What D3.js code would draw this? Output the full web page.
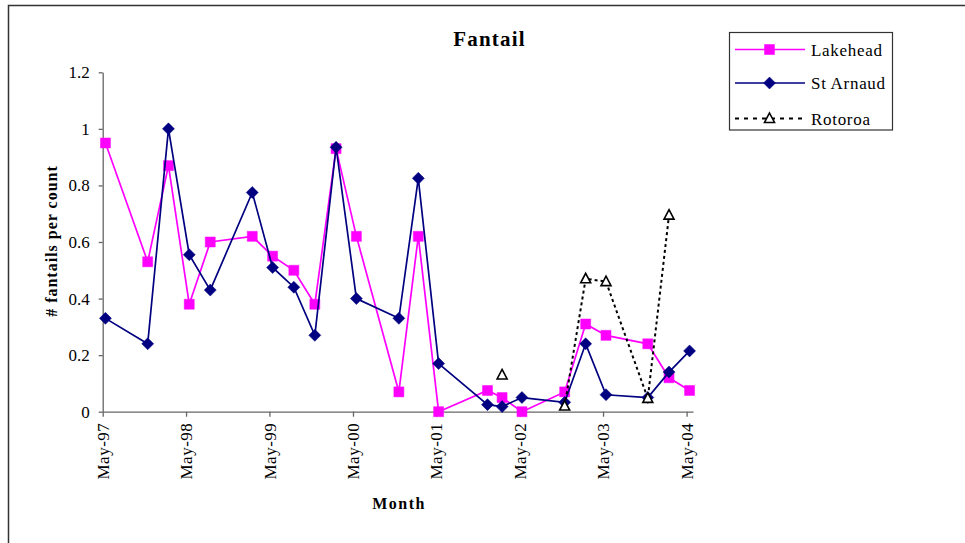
<!DOCTYPE html>
<html>
<head>
<meta charset="utf-8">
<script src="https://cdn.jsdelivr.net/npm/d3@7"></script>
<style>
  html, body { margin: 0; padding: 0; background: #fff; }
  svg { display: block; }
  svg text { font-family: "Liberation Serif", "Times New Roman", serif !important; fill: #000; }
</style>
</head>
<body>
<svg id="chart" width="965" height="543" font-family="Liberation Serif"></svg>
<script>
// ---- data ----
const dates = ["1997-05-13","1997-11-14","1998-02-13","1998-05-15","1998-08-15","1999-02-15","1999-05-15","1999-08-16","1999-11-16","2000-02-17","2000-05-16","2000-11-18","2001-02-11","2001-05-11","2001-12-11","2002-02-13","2002-05-11","2002-11-14","2003-02-14","2003-05-14","2003-11-13","2004-02-14","2004-05-14"];
const lakehead = [0.95,0.53,0.87,0.38,0.60,0.62,0.55,0.50,0.38,0.93,0.62,0.07,0.62,0.00,0.075,0.05,0.00,0.07,0.31,0.27,0.24,0.12,0.075];
const stArnaud = [0.33,0.24,1.00,0.555,0.43,0.775,0.51,0.44,0.27,0.935,0.40,0.33,0.825,0.17,0.025,0.018,0.05,0.033,0.24,0.06,0.05,0.14,0.215];
const rotoroa  = [null,null,null,null,null,null,null,null,null,null,null,null,null,null,null,0.13,null,0.02,0.47,0.46,0.047,0.695,null];
const seriesNames = ["Lakehead","St Arnaud","Rotoroa"];
const yTicks = [0,0.2,0.4,0.6,0.8,1,1.2];
const xTickDates = ["1997-05-01","1998-05-01","1999-05-01","2000-05-01","2001-05-01","2002-05-01","2003-05-01","2004-05-01"];
const titleText = "Fantail";
const xLabel = "Month";
const yLabel = "# fantails per count";

// ---- setup ----
const FONT = "Liberation Serif";
const svg = d3.select("#chart");
const parse = d3.timeParse("%Y-%m-%d");
const X0 = 102.7, X1 = 693, Y0 = 411.7, Y1 = 72.3;

const x = d3.scaleTime()
  .domain([parse("1997-05-01"), parse("2004-05-29")])
  .range([X0, X1]);
const y = d3.scaleLinear().domain([0, 1.2]).range([Y0, Y1]);

// outer frame
svg.append("rect")
  .attr("x", 8.5).attr("y", 5.5)
  .attr("width", 1100).attr("height", 700)
  .attr("fill", "none").attr("stroke", "#333").attr("stroke-width", 1.5);

// axes
const yAxis = d3.axisLeft(y).tickValues(yTicks)
  .tickFormat(d => String(+d.toFixed(1)))
  .tickSize(4).tickSizeOuter(0).tickPadding(9);
const gy = svg.append("g").attr("transform", `translate(${X0},0)`).call(yAxis);
gy.attr("font-family", FONT).attr("font-size", 17);
gy.selectAll("text").attr("font-family", FONT).style("font-size", "17px");

const xAxis = d3.axisBottom(x).tickValues(xTickDates.map(parse))
  .tickFormat(d3.timeFormat("%b-%y"))
  .tickSize(5).tickSizeOuter(0).tickPadding(7);
const gx = svg.append("g").attr("transform", `translate(0,${Y0})`).call(xAxis);
gx.attr("font-family", FONT).attr("font-size", 17);
gx.selectAll("text")
  .attr("transform", "rotate(-90)")
  .attr("text-anchor", "end")
  .attr("x", -11).attr("y", 0).attr("dy", "0.33em")
  .attr("font-family", FONT)
  .style("font-size", "17px").style("letter-spacing", "0.5px");

[gx, gy].forEach(g => {
  g.select(".domain").attr("stroke", "#666").attr("stroke-width", 1.3);
  g.selectAll(".tick line").attr("stroke", "#666").attr("stroke-width", 1.3);
});

// series
const seriesData = [
  { name: seriesNames[0], vals: lakehead, color: "#FF00FF", dash: null, marker: "square" },
  { name: seriesNames[1], vals: stArnaud, color: "#000080", dash: null, marker: "diamond" },
  { name: seriesNames[2], vals: rotoroa, color: "#000", dash: "3,3", marker: "triangle" }
];

const markerPath = {
  square: "M-5,-5H5V5H-5Z",
  diamond: "M0,-6L6,0L0,6L-6,0Z",
  triangle: "M0,-5.5L5,4L-5,4Z"
};

function drawMarker(g, type, color) {
  if (type === "triangle") {
    g.append("path").attr("d", markerPath[type])
      .attr("fill", "#fff").attr("stroke", "#000").attr("stroke-width", 1.6);
  } else {
    g.append("path").attr("d", markerPath[type]).attr("fill", color)
      .attr("stroke", color).attr("stroke-width", 0.5);
  }
}

seriesData.forEach(s => {
  const pts = dates.map((d, i) => ({ d: parse(d), v: s.vals[i] }));
  const line = d3.line().defined(p => p.v !== null)
    .x(p => x(p.d)).y(p => y(p.v));
  svg.append("path").datum(pts)
    .attr("d", line)
    .attr("fill", "none")
    .attr("stroke", s.color)
    .attr("stroke-width", s.dash ? 2 : 1.7)
    .attr("stroke-dasharray", s.dash);
  pts.filter(p => p.v !== null).forEach(p => {
    const g = svg.append("g").attr("transform", `translate(${x(p.d)},${y(p.v)})`);
    drawMarker(g, s.marker, s.color);
  });
});

// title & labels
svg.append("text").attr("x", 489.5).attr("y", 46)
  .attr("text-anchor", "middle").attr("font-family", FONT)
  .style("font-size", "21px").style("font-weight", "bold").style("letter-spacing", "1.2px")
  .text(titleText);

svg.append("text").attr("x", 399).attr("y", 509)
  .attr("text-anchor", "middle").attr("font-family", FONT)
  .style("font-size", "16px").style("font-weight", "bold").style("letter-spacing", "1.5px")
  .text(xLabel);

svg.append("text")
  .attr("transform", "translate(57,241) rotate(-90)")
  .attr("text-anchor", "middle").attr("font-family", FONT)
  .style("font-size", "16px").style("font-weight", "bold").style("letter-spacing", "1px")
  .text(yLabel);

// legend
const lg = svg.append("g");
lg.append("rect").attr("x", 729.5).attr("y", 32.5).attr("width", 163).attr("height", 97.5)
  .attr("fill", "#fff").attr("stroke", "#333").attr("stroke-width", 1.2);
const rowY = [49.5, 83, 118.5];
seriesData.forEach((s, i) => {
  lg.append("line").attr("x1", 735).attr("x2", 805)
    .attr("y1", rowY[i]).attr("y2", rowY[i])
    .attr("stroke", s.color).attr("stroke-width", s.dash ? 2 : 1.7)
    .attr("stroke-dasharray", s.dash ? "4,5" : null);
  const g = lg.append("g").attr("transform", `translate(769.5,${rowY[i]})`);
  drawMarker(g, s.marker, s.color);
  lg.append("text").attr("x", 811).attr("y", rowY[i] + 6)
    .attr("font-family", FONT)
    .style("font-size", "17px").style("letter-spacing", "0.7px")
    .text(s.name);
});
</script>
</body>
</html>
